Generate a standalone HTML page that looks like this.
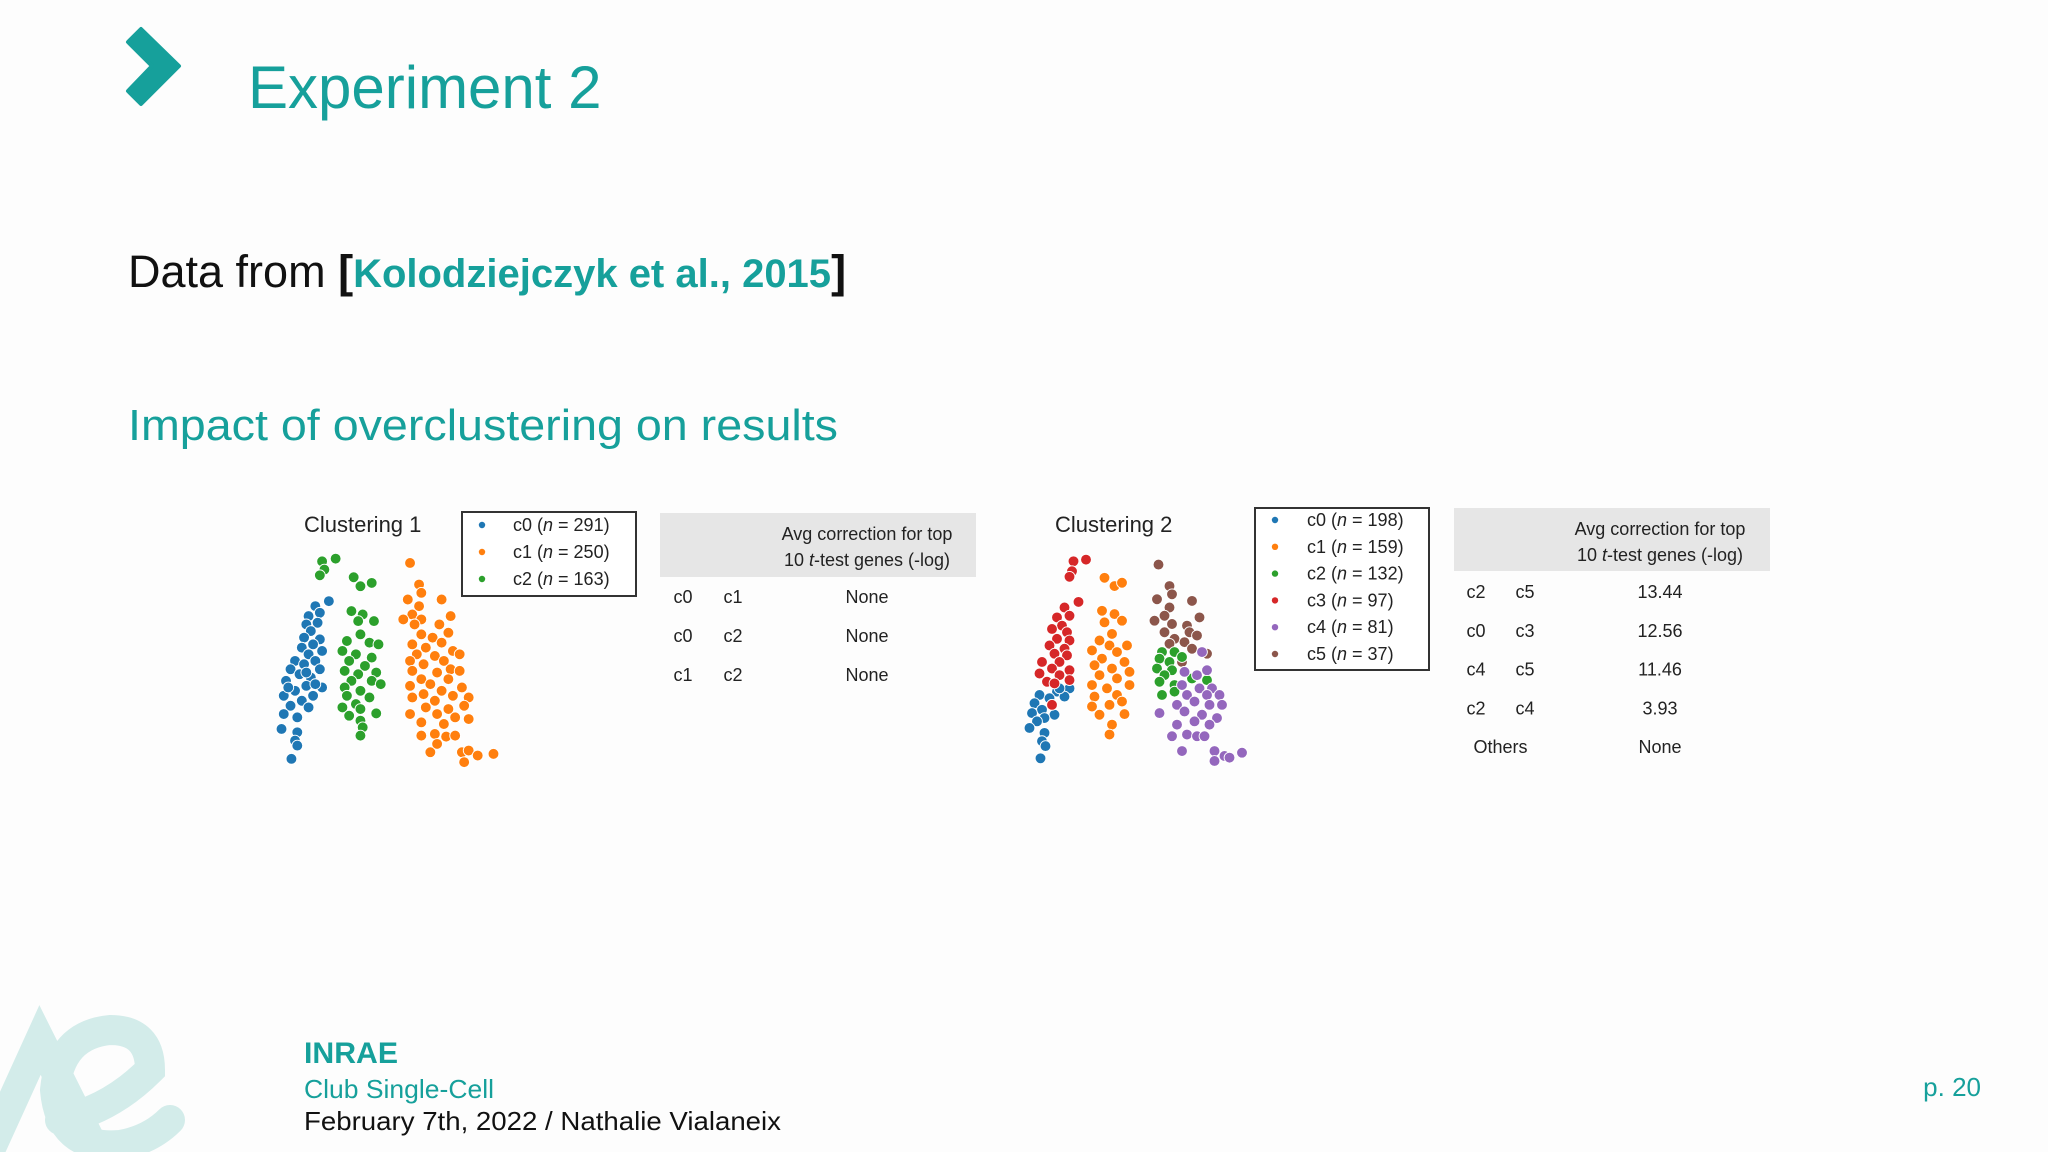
<!DOCTYPE html>
<html><head><meta charset="utf-8"><style>
html,body{margin:0;padding:0;background:#fff;}
svg{display:block;font-family:"Liberation Sans",sans-serif;}
</style></head><body>
<svg id="page" width="2048" height="1152" viewBox="0 0 2048 1152" xmlns="http://www.w3.org/2000/svg">
<rect x="0" y="0" width="2048" height="1152" fill="#fdfdfd"/>
<polygon points="128,42 141,29 179,66 141,104 128,91 152,66" fill="#16a09b" stroke="#16a09b" stroke-width="4" stroke-linejoin="round"/>
<text x="248" y="108" font-size="60" fill="#16a09b">Experiment 2</text>
<text x="128" y="287" font-size="45" fill="#111">Data from <tspan font-weight="bold">[</tspan><tspan font-weight="bold" fill="#16a09b" font-size="40">Kolodziejczyk et al., 2015</tspan><tspan font-weight="bold">]</tspan></text>
<text x="128" y="440" font-size="44" fill="#16a09b" textLength="710" lengthAdjust="spacingAndGlyphs">Impact of overclustering on results</text>

<g id="plot1">
<text x="304" y="532" font-size="22" fill="#222">Clustering 1</text>
</g>
<g id="legend1">
<rect x="462" y="512" width="174" height="84" fill="#fff" stroke="#333" stroke-width="2"/>
</g>
<g id="table1">
<rect x="660" y="513" width="316" height="64" fill="#e6e6e6"/>
<text x="867" y="540" font-size="18" fill="#222" text-anchor="middle">Avg correction for top</text>
<text x="867" y="566" font-size="18" fill="#222" text-anchor="middle">10 <tspan font-style="italic">t</tspan>-test genes (-log)</text>
</g>

<g id="plot2">
<text x="1055" y="532" font-size="22" fill="#222">Clustering 2</text>
</g>
<g id="legend2">
<rect x="1255" y="508" width="174" height="162" fill="#fff" stroke="#333" stroke-width="2"/>
</g>
<g id="table2">
<rect x="1454" y="508" width="316" height="63" fill="#e6e6e6"/>
<text x="1660" y="535" font-size="18" fill="#222" text-anchor="middle">Avg correction for top</text>
<text x="1660" y="561" font-size="18" fill="#222" text-anchor="middle">10 <tspan font-style="italic">t</tspan>-test genes (-log)</text>
</g>

<g fill="none" stroke="#d3ecea" stroke-width="30" stroke-linecap="round">
<path d="M-10,1150 L40,1040 L95,1150"/>
<path d="M60,1120 Q110,1110 150,1070 Q150,1030 110,1030 Q60,1035 55,1090 Q60,1150 120,1145 Q150,1140 170,1120"/>
</g>
<text x="304" y="1063" font-size="30" font-weight="bold" fill="#16a09b" textLength="94" lengthAdjust="spacingAndGlyphs">INRAE</text>
<text x="304" y="1098" font-size="26" fill="#16a09b" textLength="190" lengthAdjust="spacingAndGlyphs">Club Single-Cell</text>
<text x="304" y="1130" font-size="26" fill="#111" textLength="477" lengthAdjust="spacingAndGlyphs">February 7th, 2022 / Nathalie Vialaneix</text>
<text x="1981" y="1096" font-size="26" fill="#16a09b" text-anchor="end">p. 20</text>
</svg>
<script>
const NS="http://www.w3.org/2000/svg";
const colors=["#1f77b4","#ff7f0e","#2ca02c","#d62728","#9467bd","#8c564b"];
// Clustering 1 embedding (arbitrary UMAP units)
const c1Labels=["c0","c1","c2"];
const c1Counts=[291,250,163];
const c1_c0=[[145,340],[115,355],[125,375],[100,385],[95,410],[120,405],[105,430],[90,450],[125,455],[110,470],[85,480],[130,490],[100,500],[70,520],[115,520],[90,530],[60,545],[125,545],[80,560],[105,570],[50,580],[130,600],[95,595],[70,610],[45,625],[110,625],[85,640],[60,655],[100,660],[45,680],[75,690],[40,725],[75,735],[70,760],[75,775],[62,815],[55,600],[115,590],[95,555]];
const c1_c1=[[325,225],[345,290],[350,315],[320,335],[395,335],[345,355],[330,380],[310,395],[350,395],[415,385],[390,410],[335,410],[410,435],[350,440],[375,450],[330,470],[395,465],[360,480],[420,490],[340,500],[380,505],[435,500],[325,520],[400,520],[355,530],[415,545],[330,550],[385,555],[435,550],[350,575],[410,575],[370,590],[440,600],[325,595],[395,610],[355,620],[420,625],[455,630],[330,630],[380,640],[445,655],[360,660],[410,665],[385,680],[425,690],[325,680],[455,695],[350,705],[400,710],[380,740],[405,748],[425,745],[350,745],[370,795],[385,770],[440,795],[455,790],[475,805],[510,800],[445,825]];
const c1_c2=[[130,220],[160,212],[135,245],[125,262],[200,268],[240,285],[215,295],[195,370],[220,380],[245,400],[210,400],[215,440],[185,460],[235,465],[255,470],[175,490],[205,500],[240,510],[190,520],[225,535],[180,550],[250,555],[210,560],[195,580],[240,580],[180,600],[260,590],[215,610],[185,625],[235,630],[205,650],[175,660],[215,665],[250,678],[190,685],[215,700],[220,720],[215,745]];
// Clustering 2 embedding
const c2Labels=["c0","c1","c2","c3","c4","c5"];
const c2Counts=[198,159,132,97,81,37];
const c2_c0=[[120,600],[95,610],[60,620],[80,630],[110,625],[50,645],[85,650],[65,665],[45,675],[90,680],[70,690],[55,700],[40,720],[70,735],[65,760],[72,775],[62,812],[100,600]];
const c2_c1=[[190,265],[210,290],[225,280],[185,365],[210,375],[190,400],[225,395],[205,435],[180,455],[235,470],[200,470],[165,485],[215,490],[185,510],[230,520],[170,530],[205,540],[240,550],[180,560],[215,570],[165,590],[240,590],[195,600],[215,620],[170,625],[225,640],[165,655],[200,650],[180,680],[230,678],[205,710],[200,740]];
const c2_c2=[[305,490],[330,490],[300,510],[320,520],[345,505],[295,540],[325,545],[310,560],[350,550],[300,580],[330,590],[365,570],[395,575],[305,620],[330,610]];
const c2_c3=[[128,215],[153,210],[125,245],[120,262],[138,338],[110,355],[95,385],[120,380],[105,410],[85,420],[115,430],[95,450],[120,455],[80,470],[110,480],[90,495],[115,500],[65,520],[100,520],[85,540],[120,545],[60,555],[100,560],[75,580],[120,575],[90,585],[85,650]];
const c2_c4=[[385,490],[350,550],[395,545],[375,560],[345,590],[380,600],[405,600],[355,620],[395,620],[420,620],[335,650],[370,640],[400,650],[425,650],[300,675],[350,670],[385,680],[415,690],[335,710],[370,700],[400,710],[325,745],[355,740],[375,745],[390,745],[345,790],[410,790],[430,805],[465,795],[410,820],[440,810]];
const c2_c5=[[298,225],[320,290],[325,315],[295,330],[365,335],[320,355],[310,380],[290,395],[380,385],[325,405],[355,410],[310,430],[360,430],[330,450],[375,440],[350,460],[320,465],[365,480],[395,495],[345,520]];
// tables
const t1Pairs=[["c0","c1"],["c0","c2"],["c1","c2"]];
const t1Values=["None","None","None"];
const t2Pairs=[["c2","c5"],["c0","c3"],["c4","c5"],["c2","c4"],["Others",""]];
const t2Values=["13.44","12.56","11.46","3.93","None"];

const x1=v=>277+(v-30)*0.451, y1=v=>558+(v-210)*0.332;
const x2=v=>1027+(v-35)*0.5, y2=v=>558+(v-205)*0.33;

function drawPoints(gid,sets,order,xf,yf,nm){
  const g=document.getElementById(gid);
  order.forEach(ci=>{
    sets[ci].forEach(p=>{
      const c=document.createElementNS(NS,"circle");
      c.setAttribute("cx",xf(p[0]));c.setAttribute("cy",yf(p[1]));c.setAttribute("r",5.4);
      c.setAttribute("fill",colors[ci]);c.setAttribute("stroke","#fff");c.setAttribute("stroke-width",0.9);
      
      
      g.appendChild(c);
    });
  });
}
drawPoints("plot1",[c1_c0,c1_c1,c1_c2],[0,1,2],x1,y1,"clustering-1");
drawPoints("plot2",[c2_c0,c2_c1,c2_c2,c2_c3,c2_c4,c2_c5],[0,3,1,5,2,4],x2,y2,"clustering-2");

function drawLegend(gid,labels,counts,dotX,textX,y0,dy){
  const g=document.getElementById(gid);
  labels.forEach((l,i)=>{
    const y=y0+i*dy;
    const c=document.createElementNS(NS,"circle");
    c.setAttribute("cx",dotX);c.setAttribute("cy",y);c.setAttribute("r",3.2);c.setAttribute("fill",colors[i]);
    
    
    g.appendChild(c);
    const t=document.createElementNS(NS,"text");
    t.setAttribute("x",textX);t.setAttribute("y",y+6);t.setAttribute("font-size","18");t.setAttribute("fill","#222");
    t.innerHTML=l+' (<tspan font-style="italic">n</tspan> = '+counts[i]+')';
    
    
    g.appendChild(t);
  });
}
drawLegend("legend1",c1Labels,c1Counts,482,513,525,27);
drawLegend("legend2",c2Labels,c2Counts,1275,1307,520,26.8);

function drawTable(gid,pairs,vals,cx1,cx2,cv,y0,dy,nm){
  const g=document.getElementById(gid);
  pairs.forEach((p,i)=>{
    const y=y0+i*dy+6;
    const mk=(x,s,part)=>{const t=document.createElementNS(NS,"text");
      t.setAttribute("x",x);t.setAttribute("y",y);t.setAttribute("font-size","18");t.setAttribute("fill","#222");t.setAttribute("text-anchor","middle");
      t.textContent=s;
      
      
      g.appendChild(t);};
    if(p[1]===""){mk((cx1+cx2)/2,p[0],"label");}else{mk(cx1,p[0],"a");mk(cx2,p[1],"b");}
    mk(cv,vals[i],"value");
  });
}
drawTable("table1",t1Pairs,t1Values,683,733,867,597,39,"table-1");
drawTable("table2",t2Pairs,t2Values,1476,1525,1660,592,38.8,"table-2");
</script>
</body></html>
